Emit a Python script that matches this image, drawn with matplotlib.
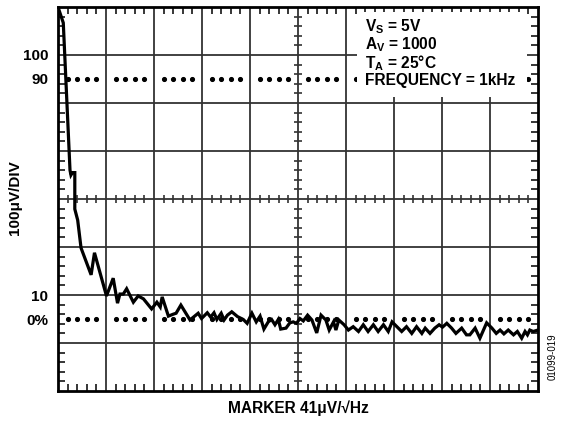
import numpy as np
import matplotlib
matplotlib.use("Agg")
import matplotlib.pyplot as plt
from matplotlib.patches import Rectangle

plt.rcParams['font.family'] = ['Liberation Sans', 'DejaVu Sans']
plt.rcParams['mathtext.fontset'] = 'custom'
plt.rcParams['mathtext.rm'] = 'Liberation Sans:bold'
plt.rcParams['mathtext.it'] = 'Liberation Sans:bold'
plt.rcParams['mathtext.bf'] = 'Liberation Sans:bold'

# Trace, in screen divisions (x: 0..10, y: 0..8)
trace_x = [0.0, 0.11, 0.25, 0.27, 0.30, 0.35, 0.35, 0.41, 0.48, 0.69, 0.76, 1.01,
           1.15, 1.24, 1.29, 1.36, 1.43, 1.57, 1.67, 1.78, 1.95, 2.06, 2.13, 2.17,
           2.30, 2.40, 2.46, 2.56, 2.75, 2.92, 2.99, 3.11, 3.18, 3.25, 3.31, 3.40,
           3.46, 3.53, 3.62, 3.74, 3.86, 3.94, 4.04, 4.13, 4.21, 4.29, 4.38, 4.45,
           4.52, 4.59, 4.64, 4.75, 4.83, 4.90, 4.97, 5.04, 5.11, 5.20, 5.29, 5.39,
           5.48, 5.58, 5.65, 5.74, 5.79, 5.85, 5.96, 6.05, 6.15, 6.26, 6.36, 6.46,
           6.57, 6.67, 6.78, 6.88, 6.96, 7.06, 7.16, 7.26, 7.37, 7.47, 7.58, 7.65,
           7.75, 7.85, 7.94, 8.01, 8.10, 8.20, 8.29, 8.41, 8.51, 8.58, 8.69, 8.79,
           8.93, 9.04, 9.13, 9.21, 9.29, 9.38, 9.49, 9.57, 9.66, 9.73, 9.78, 9.83,
           9.90, 10.0]
trace_y = [8.0, 7.67, 4.60, 4.50, 4.55, 4.55, 3.79, 3.56, 2.98, 2.42, 2.88, 1.98,
           2.35, 1.83, 2.02, 2.02, 2.13, 1.85, 1.98, 1.92, 1.71, 1.85, 1.75, 1.96,
           1.56, 1.60, 1.62, 1.79, 1.48, 1.62, 1.51, 1.63, 1.54, 1.63, 1.49, 1.62,
           1.48, 1.58, 1.65, 1.55, 1.49, 1.41, 1.62, 1.44, 1.56, 1.29, 1.44, 1.49,
           1.38, 1.49, 1.29, 1.31, 1.42, 1.44, 1.41, 1.51, 1.46, 1.58, 1.48, 1.21,
           1.58, 1.48, 1.27, 1.44, 1.27, 1.48, 1.38, 1.27, 1.34, 1.24, 1.38, 1.24,
           1.38, 1.24, 1.38, 1.24, 1.44, 1.34, 1.24, 1.34, 1.20, 1.34, 1.20, 1.31,
           1.20, 1.31, 1.38, 1.33, 1.41, 1.31, 1.20, 1.31, 1.17, 1.17, 1.31, 1.10,
           1.42, 1.31, 1.20, 1.27, 1.19, 1.27, 1.17, 1.24, 1.10, 1.24, 1.17, 1.27,
           1.24, 1.27]

ytick_pos = [1.5, 2.0, 6.5, 7.0]
ytick_labels = ['0%', '10', '90', '100']
marker_levels = [1.5, 6.5]
legend_lines = [r'$\mathrm{V_S}$ = 5V', r'$\mathrm{A_V}$ = 1000',
                r'$\mathrm{T_A}$ = 25°C', 'FREQUENCY = 1kHz']
ylabel = '100μV/DIV'
xlabel = 'MARKER 41μV/√Hz'
code = '01099-019'

W, H = 561, 423
fig = plt.figure(figsize=(W / 100, H / 100), dpi=100)
ax = fig.add_axes([58 / W, 32 / H, 480 / W, 384 / H])
ax.set_xlim(0, 10)
ax.set_ylim(0, 8)

gcol = '#333333'
for xv in range(1, 10):
    ax.axvline(xv, color=gcol, lw=1.3, zorder=1)
for yv in range(1, 8):
    ax.axhline(yv, color=gcol, lw=1.3, zorder=1)

# minor ticks on the center lines
minor_x = [v / 5 for v in range(1, 50) if v % 5]
minor_y = [v / 5 for v in range(1, 40) if v % 5]
ax.plot([5] * len(minor_y), minor_y, ls='none', marker='_', ms=6, mew=1.2,
        color=gcol, zorder=1)
ax.plot(minor_x, [4] * len(minor_x), ls='none', marker='|', ms=6, mew=1.2,
        color=gcol, zorder=1)

# dotted marker levels
for lv in marker_levels:
    ax.plot(minor_x, [lv] * len(minor_x), ls='none', marker='o', ms=2.7,
            color='black', zorder=2)

# white box behind annotation
ax.add_patch(Rectangle(((357 - 58) / 480, (391 - 97) / 384),
                       (527 - 357) / 480, (97 - 12) / 384,
                       transform=ax.transAxes, facecolor='white',
                       edgecolor='none', zorder=3))

ax.plot(trace_x, trace_y, color='black', lw=2.3, zorder=4,
        solid_joinstyle='miter')

# edge ticks
ax.set_xticks([])
ax.set_xticks(minor_x, minor=True)
ax.set_yticks(ytick_pos)
ax.set_yticklabels(ytick_labels, fontsize=11, fontweight='bold')
ax.set_yticks(minor_y, minor=True)
ax.tick_params(axis='y', which='major', length=0, pad=7)
ax.tick_params(which='minor', direction='in', length=5, width=1.1,
               top=True, bottom=True, left=True, right=True, color='black')
for s in ax.spines.values():
    s.set_linewidth(2.0)
    s.set_zorder(5)

for i, t in enumerate(legend_lines):
    fig.text(365 / W, 1 - (27 + 18 * i) / H, t, fontsize=11.2,
             fontweight='bold', va='center', ha='left', zorder=6)

fig.text(15 / W, 1 - 198 / H, ylabel, rotation=90, fontsize=11,
         fontweight='bold', ha='center', va='center')
fig.text(298 / W, 1 - 408 / H, xlabel, fontsize=11.2, fontweight='bold',
         ha='center', va='center')
fig.text(553 / W, 1 - 357 / H, code, rotation=90, fontsize=7,
         ha='center', va='center')

fig.savefig('out.png', dpi=100)
